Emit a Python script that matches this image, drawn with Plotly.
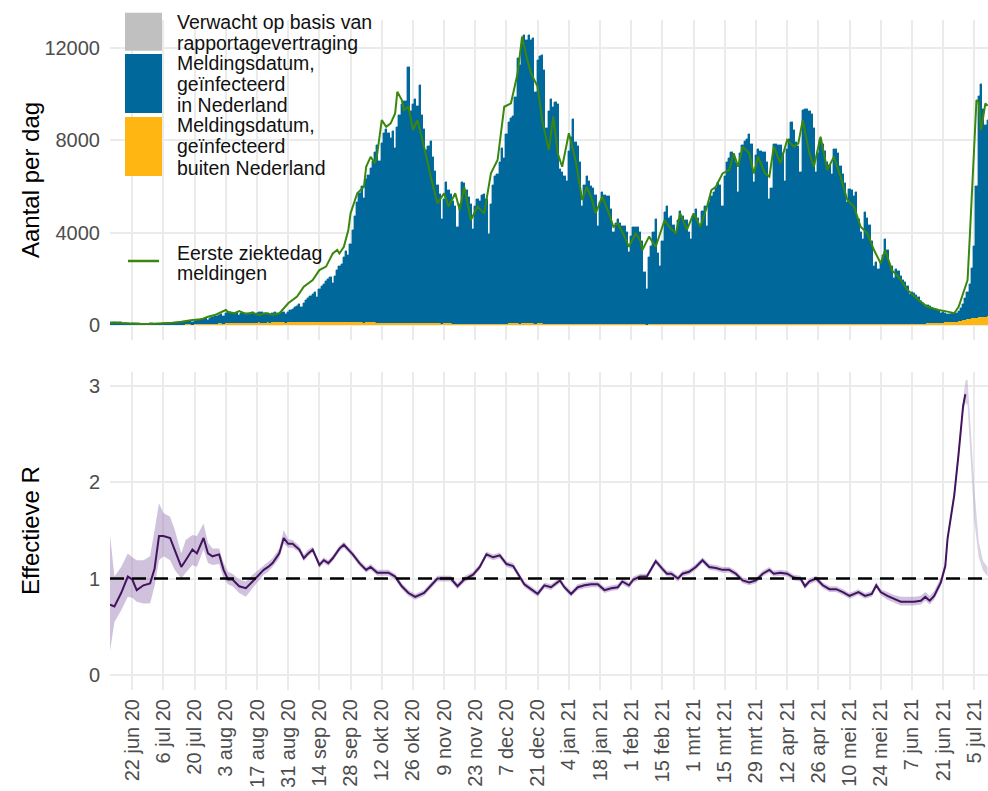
import pandas as pd
import plotly.graph_objects as go

START = pd.Timestamp("2020-06-12")

# Dagelijkse meldingen, geinfecteerd in Nederland (vanaf 12 jun 2020)
meld_nl = [
    130, 110, 80, 100, 110, 120, 100,
    100, 90, 60, 70, 80, 90, 70,
    60, 50, 40, 50, 60, 60, 50,
    50, 50, 40, 60, 70, 70, 80,
    80, 70, 60, 90, 110, 120, 130,
    140, 130, 110, 160, 180, 200, 210,
    230, 240, 190, 270, 300, 320, 340,
    380, 420, 350, 450, 470, 480, 450,
    440, 460, 340, 420, 440, 430, 410,
    430, 450, 370, 420, 440, 450, 430,
    430, 420, 360, 420, 440, 430, 420,
    440, 450, 360, 460, 520, 580, 640,
    700, 760, 640, 820, 950, 1050, 1100,
    1200, 1300, 1100, 1400, 1550, 1650, 1750,
    1850, 1950, 1700, 2000, 2250, 2400, 2500,
    2800, 3100, 2900, 3400, 4000, 4600, 5200,
    5600, 5900, 5400, 6200, 6400, 6700, 7000,
    7400, 7700, 7000, 7800, 8200, 8400, 8200,
    8000, 8300, 7600, 8500, 9000, 9500, 9600,
    9600, 11100, 9200, 9500, 9700, 9400, 10300,
    9000, 8400, 7500, 7700, 7900, 7200, 6600,
    6000, 5600, 4550, 5400, 6150, 5800, 5600,
    5300, 5100, 4200, 5200, 6150, 6100, 5800,
    5500, 5200, 4100, 5100, 5400, 5300, 5600,
    5600, 5400, 3900, 5200, 6000, 6400, 6500,
    7000, 7600, 7200, 8200, 8750, 8900, 9000,
    9800, 11500, 11200, 12100, 12500, 12300, 12500,
    12300, 12350, 10050, 11400, 11600, 11630, 11000,
    8500, 9200, 9750, 9400, 9600, 9530, 6700,
    6600, 6430, 6200, 7500, 8100, 8890, 7900,
    7700, 7000, 5130, 6000, 6430, 6200, 5990,
    5900, 5600, 4260, 5300, 5720, 5600, 5560,
    5560, 5000, 3980, 4400, 4550, 4400, 4260,
    4260, 4000, 3120, 3800, 4200, 4200, 4200,
    4000, 3600, 2250, 1520, 2900, 3390, 4000,
    4550, 3100, 2510, 3600, 4850, 5130, 4600,
    4700, 4300, 3980, 4500, 4910, 4700, 4500,
    4500, 3980, 3700, 4700, 4980, 4600, 4260,
    4900, 5130, 4260, 5270, 5560, 5700, 5900,
    6150, 6000, 5130, 6400, 7020, 7200, 7440,
    7300, 7000, 5720, 7400, 7730, 7900, 8000,
    8230, 7800, 6150, 7300, 7580, 7500, 7440,
    7440, 7000, 5420, 5900, 7800, 7800, 7730,
    7730, 7400, 6200, 7580, 8000, 8750, 8400,
    7890, 7700, 6600, 9250, 9320, 9290, 9200,
    9100, 8500, 6580, 7400, 8020, 7800, 7500,
    7020, 6900, 6500, 7580, 7580, 7400, 6860,
    6500, 6100, 5300, 5850, 5800, 5560, 5720,
    4550, 3980, 3700, 4850, 4600, 4300, 3600,
    2530, 2700, 2400, 2690, 3000, 3680, 3200,
    2600, 2530, 2000, 2380, 2300, 2100, 1900,
    1800, 1660, 1300, 1400, 1350, 1230, 1150,
    1000, 900, 750, 800, 750, 650, 600,
    560, 520, 420, 450, 400, 380, 360,
    380, 360, 350, 450, 550, 700, 950,
    1200, 1500, 2200, 3120, 5720, 9600, 10100,
    9000, 8320, 8500,
]

# Dagelijkse meldingen, geinfecteerd buiten Nederland
meld_buiten = [
    8, 6, 5, 6, 7, 8, 6,
    6, 5, 4, 5, 6, 6, 5,
    5, 5, 4, 5, 6, 7, 6,
    8, 8, 6, 9, 10, 12, 12,
    14, 15, 12, 18, 20, 22, 24,
    26, 28, 22, 30, 34, 38, 40,
    45, 48, 40, 55, 60, 62, 65,
    70, 75, 60, 80, 85, 88, 90,
    90, 95, 80, 95, 100, 100, 98,
    100, 105, 90, 105, 110, 108, 105,
    105, 110, 95, 110, 115, 112, 110,
    112, 115, 100, 118, 125, 128, 130,
    132, 135, 120, 138, 140, 142, 140,
    140, 142, 125, 140, 145, 145, 142,
    140, 138, 120, 135, 138, 136, 134,
    130, 128, 115, 125, 128, 126, 124,
    120, 118, 105, 115, 118, 116, 114,
    110, 108, 95, 105, 108, 106, 104,
    100, 98, 88, 96, 98, 96, 94,
    92, 95, 85, 90, 92, 90, 88,
    85, 82, 72, 80, 80, 78, 75,
    72, 70, 60, 68, 70, 68, 66,
    64, 62, 55, 60, 62, 60, 60,
    60, 58, 50, 58, 60, 58, 56,
    58, 56, 48, 56, 58, 60, 60,
    62, 64, 58, 64, 66, 66, 66,
    68, 70, 64, 72, 74, 74, 72,
    72, 70, 60, 68, 70, 68, 64,
    56, 58, 60, 60, 58, 56, 48,
    46, 48, 46, 52, 54, 56, 52,
    52, 50, 42, 48, 50, 48, 46,
    46, 45, 38, 44, 46, 45, 44,
    44, 42, 36, 40, 42, 41, 40,
    40, 38, 32, 38, 40, 40, 40,
    38, 36, 26, 20, 32, 36, 38,
    40, 34, 30, 36, 42, 44, 42,
    42, 40, 36, 40, 42, 42, 41,
    41, 38, 35, 41, 43, 42, 40,
    42, 43, 38, 44, 46, 46, 47,
    48, 47, 42, 49, 51, 52, 53,
    52, 51, 45, 52, 54, 55, 55,
    56, 54, 46, 52, 54, 54, 53,
    53, 51, 44, 46, 54, 54, 54,
    54, 53, 47, 53, 55, 57, 56,
    55, 54, 48, 58, 59, 59, 58,
    58, 56, 48, 52, 54, 53, 52,
    50, 49, 47, 52, 52, 51, 49,
    48, 46, 42, 45, 45, 44, 45,
    42, 40, 38, 44, 43, 42, 40,
    38, 39, 37, 40, 42, 46, 44,
    44, 44, 40, 44, 44, 45, 46,
    48, 50, 46, 52, 54, 56, 58,
    62, 64, 60, 68, 72, 76, 82,
    90, 96, 92, 104, 112, 118, 124,
    130, 142, 150, 170, 190, 210, 230,
    250, 270, 290, 310, 320, 330, 340,
    350, 360, 370,
]

# Eerste ziektedag meldingen (dagnummer sinds 12 jun 2020, aantal)
ziekte_dagnr = [
    0, 2, 5, 9, 13, 17, 21, 25, 28, 32, 37, 41, 44, 47, 49, 52, 53, 56, 58, 61,
    64, 67, 70, 73, 76, 79, 80, 84, 87, 91, 94, 97, 100, 102, 103, 105, 107, 108,
    111, 114, 115, 117, 119, 120, 122, 124, 126, 128, 129, 131, 132, 134, 136,
    138, 141, 144, 147, 150, 152, 155, 157, 159, 162, 165, 168, 171, 174, 177,
    180, 183, 185, 187, 189, 192, 194, 197, 199, 201, 203, 206, 209, 212, 214,
    216, 218, 221, 224, 226, 228, 231, 233, 236, 238, 239, 242, 245, 247, 249,
    251, 254, 256, 259, 262, 265, 268, 270, 272, 275, 278, 280, 282, 284, 287,
    289, 291, 294, 296, 298, 301, 304, 307, 309, 311, 314, 316, 319, 322, 325,
    328, 331, 334, 337, 340, 343, 346, 348, 351, 354, 358, 363, 367, 372, 376,
    379, 381, 383, 385, 386, 388, 389, 390, 391, 392, 393, 394,
]
ziekte_aantal = [
    80, 120, 90, 60, 40, 40, 50, 60, 100, 140, 220, 245, 360, 430, 505, 650, 560, 510, 600, 480,
    530, 440, 505, 440, 500, 795, 940, 1230, 1660, 1950, 2380, 2530, 3100, 3250, 3100, 3390, 4120, 4840,
    5710, 5990, 6860, 7290, 7010, 7440, 8880, 8590, 8740, 9170, 10110, 9750, 9320, 9460, 8450,
    8880, 7730, 6430, 5270, 5710, 5130, 5710, 4980, 5990, 4550, 5130, 4840, 6570, 7150, 9460,
    9610, 10910, 12500, 11630, 10910, 10330, 8880, 7580, 9030, 7440, 6860, 8310, 7150, 5420, 5990,
    5560, 4840, 5560, 4840, 4260, 4410, 3830, 3390, 3970, 3680, 3250, 3830, 3390, 3970, 4550,
    4260, 3970, 4840, 4120, 4840, 4260, 5130, 5850, 5990, 6570, 6720, 7440, 6860, 7730, 7440,
    6570, 7290, 6570, 6430, 7730, 7010, 8020, 7730, 7870, 8880, 7440, 6860, 8160, 6720, 7290,
    6430, 5420, 5130, 4260, 3970, 3250, 2670, 3250, 2380, 2090, 1520, 1080, 790, 650, 580,
    510, 790, 1370, 1950, 3830, 7440, 9750, 9650, 8450, 9000, 9610, 9500,
]

# Effectieve R (dagnummer sinds 12 jun 2020), met onder- en bovengrens
r_dagnr = [
    0, 2, 5, 8, 10, 12, 15, 18, 20, 22, 24, 27, 29, 32, 34, 37, 39, 42, 44, 46,
    49, 51, 53, 55, 58, 61, 64, 67, 69, 71, 73, 76, 78, 80, 82, 85, 87, 89, 91, 94,
    96, 98, 100, 103, 105, 107, 109, 112, 115, 117, 120, 123, 125, 128, 131, 134, 137, 141, 144, 147,
    150, 153, 156, 159, 163, 166, 169, 172, 175, 178, 181, 183, 186, 189, 192, 195, 198, 202, 204, 207,
    210, 213, 216, 219, 222, 225, 228, 230, 233, 235, 238, 241, 243, 245, 248, 250, 252, 255, 257, 260,
    263, 266, 269, 272, 275, 278, 281, 284, 287, 290, 293, 296, 298, 301, 304, 307, 310, 312, 314, 317,
    320, 323, 326, 329, 332, 334, 336, 339, 342, 344, 346, 349, 352, 355, 358, 361, 364, 366, 368, 370,
    373, 375, 376, 379, 381, 383, 384, 385, 386, 388, 390, 392, 394,
]
r_waarde = [
    0.73, 0.71, 0.85, 1.02, 0.99, 0.88, 0.93, 0.95, 1.10, 1.44, 1.44, 1.42, 1.30, 1.12, 1.19, 1.30, 1.26, 1.42, 1.26, 1.23,
    1.25, 1.09, 0.99, 0.99, 0.92, 0.90, 0.97, 1.04, 1.09, 1.12, 1.16, 1.26, 1.42, 1.36, 1.36, 1.30, 1.21, 1.26, 1.30, 1.14,
    1.19, 1.16, 1.21, 1.31, 1.35, 1.30, 1.25, 1.16, 1.09, 1.12, 1.06, 1.06, 1.06, 1.02, 0.92, 0.85, 0.81, 0.85, 0.92, 1.00,
    1.00, 1.00, 0.92, 0.99, 1.04, 1.12, 1.25, 1.22, 1.24, 1.15, 1.13, 1.05, 0.94, 0.89, 0.84, 0.93, 0.91, 0.98, 0.91, 0.84,
    0.91, 0.93, 0.94, 0.94, 0.88, 0.90, 0.91, 0.97, 0.93, 0.99, 1.02, 1.02, 1.10, 1.18, 1.10, 1.05, 1.05, 1.00, 1.05, 1.07,
    1.12, 1.19, 1.12, 1.11, 1.09, 1.09, 1.05, 0.98, 0.96, 0.98, 1.05, 1.09, 1.05, 1.06, 1.05, 1.01, 1.00, 0.92, 0.97, 1.00,
    0.93, 0.89, 0.89, 0.86, 0.82, 0.84, 0.86, 0.82, 0.84, 0.93, 0.86, 0.82, 0.79, 0.76, 0.76, 0.76, 0.77, 0.81, 0.77, 0.82,
    0.96, 1.13, 1.41, 1.86, 2.30, 2.79, 2.91, None, None, None, None, None, None,
]
r_onder = [
    0.25, 0.55, 0.67, 0.81, 0.80, 0.76, 0.74, 0.74, 0.92, 1.19, 1.23, 1.19, 1.09, 1.00, 1.06, 1.14, 1.12, 1.30, 1.16, 1.14,
    1.15, 1.00, 0.94, 0.92, 0.85, 0.81, 0.90, 0.98, 1.04, 1.07, 1.12, 1.21, 1.36, 1.32, 1.32, 1.27, 1.18, 1.23, 1.27, 1.11,
    1.16, 1.13, 1.18, 1.28, 1.32, 1.27, 1.22, 1.13, 1.06, 1.09, 1.03, 1.03, 1.03, 0.99, 0.89, 0.82, 0.78, 0.82, 0.89, 0.97,
    0.97, 0.97, 0.89, 0.96, 1.01, 1.09, 1.22, 1.19, 1.21, 1.12, 1.10, 1.02, 0.91, 0.86, 0.81, 0.90, 0.88, 0.95, 0.88, 0.81,
    0.88, 0.90, 0.91, 0.91, 0.85, 0.87, 0.88, 0.94, 0.90, 0.96, 0.99, 0.99, 1.07, 1.15, 1.07, 1.02, 1.02, 0.97, 1.02, 1.04,
    1.09, 1.16, 1.09, 1.08, 1.06, 1.06, 1.02, 0.95, 0.93, 0.95, 1.02, 1.06, 1.02, 1.03, 1.02, 0.98, 0.97, 0.89, 0.94, 0.97,
    0.90, 0.86, 0.86, 0.83, 0.79, 0.81, 0.83, 0.79, 0.81, 0.90, 0.83, 0.78, 0.75, 0.72, 0.72, 0.72, 0.73, 0.77, 0.73, 0.78,
    0.92, 1.09, 1.37, 1.82, 2.25, 2.72, 2.82, 2.80, 2.40, 1.60, 1.22, 1.08, 1.02,
]
r_boven = [
    1.45, 1.02, 1.12, 1.26, 1.22, 1.19, 1.19, 1.23, 1.50, 1.78, 1.68, 1.64, 1.51, 1.26, 1.40, 1.45, 1.44, 1.57, 1.37, 1.31,
    1.31, 1.16, 1.07, 1.05, 0.99, 0.97, 1.04, 1.10, 1.14, 1.17, 1.21, 1.31, 1.50, 1.41, 1.40, 1.34, 1.25, 1.30, 1.33, 1.17,
    1.22, 1.19, 1.24, 1.34, 1.38, 1.33, 1.28, 1.19, 1.12, 1.15, 1.09, 1.09, 1.09, 1.05, 0.95, 0.88, 0.84, 0.88, 0.95, 1.03,
    1.03, 1.03, 0.95, 1.02, 1.07, 1.15, 1.28, 1.25, 1.27, 1.18, 1.16, 1.08, 0.97, 0.92, 0.87, 0.96, 0.94, 1.01, 0.94, 0.87,
    0.94, 0.96, 0.97, 0.97, 0.91, 0.93, 0.94, 1.00, 0.96, 1.02, 1.05, 1.05, 1.13, 1.21, 1.13, 1.08, 1.08, 1.03, 1.08, 1.10,
    1.15, 1.22, 1.15, 1.14, 1.12, 1.12, 1.08, 1.01, 0.99, 1.01, 1.08, 1.12, 1.08, 1.09, 1.08, 1.04, 1.03, 0.95, 1.00, 1.03,
    0.96, 0.92, 0.92, 0.89, 0.85, 0.87, 0.89, 0.85, 0.87, 0.96, 0.89, 0.86, 0.83, 0.81, 0.81, 0.81, 0.82, 0.86, 0.82, 0.87,
    1.01, 1.18, 1.46, 1.92, 2.37, 2.88, 3.05, 3.06, 2.70, 1.95, 1.38, 1.18, 1.12,
]

tick_labels = [
    "22 jun 20", "6 jul 20", "20 jul 20", "3 aug 20", "17 aug 20", "31 aug 20", "14 sep 20",
    "28 sep 20", "12 okt 20", "26 okt 20", "9 nov 20", "23 nov 20", "7 dec 20", "21 dec 20",
    "4 jan 21", "18 jan 21", "1 feb 21", "15 feb 21", "1 mrt 21", "15 mrt 21", "29 mrt 21",
    "12 apr 21", "26 apr 21", "10 mei 21", "24 mei 21", "7 jun 21", "21 jun 21", "5 jul 21",
]

# ---------------------------------------------------------------------------
bar_dates = pd.date_range(START, periods=len(meld_nl), freq="D")
ziekte_dates = [START + pd.Timedelta(days=d) for d in ziekte_dagnr]
r_dates = [START + pd.Timedelta(days=d) for d in r_dagnr]
tick_dates = pd.date_range("2020-06-22", periods=len(tick_labels), freq="14D")

n_line = sum(v is not None for v in r_waarde)
band_main = n_line
band_tail_start = n_line - 1

W, H = 988, 791
L, R, T, B = 110, 0, 20, 101


def px(x):
    return (x - L) / (W - L - R)


def py(y):
    return (H - B - y) / (H - T - B)


FONT = "Liberation Sans, Arial, sans-serif"
BLUE = "#01689B"
YELLOW = "#FFB612"
GREY = "#C0C0C0"
GREEN = "#39870C"
PURPLE = "#42145F"
GRID = "#EBEBEB"

fig = go.Figure()

fig.add_trace(go.Bar(x=bar_dates, y=meld_buiten, marker=dict(color=YELLOW, line=dict(width=0.4, color=YELLOW)),
                     xaxis="x", yaxis="y", showlegend=False))
fig.add_trace(go.Bar(x=bar_dates, y=meld_nl, marker=dict(color=BLUE, line=dict(width=0.4, color=BLUE)),
                     xaxis="x", yaxis="y", showlegend=False))
fig.add_trace(go.Scatter(x=ziekte_dates, y=ziekte_aantal, mode="lines",
                         line=dict(color=GREEN, width=2), xaxis="x", yaxis="y", showlegend=False))

# R band (main)
fig.add_trace(go.Scatter(x=r_dates[:band_main], y=r_onder[:band_main], mode="lines", line=dict(width=0),
                         xaxis="x2", yaxis="y2", showlegend=False))
fig.add_trace(go.Scatter(x=r_dates[:band_main], y=r_boven[:band_main], mode="lines", line=dict(width=0),
                         fill="tonexty", fillcolor="rgba(150,120,180,0.45)",
                         xaxis="x2", yaxis="y2", showlegend=False))
# R band (tail, no line)
fig.add_trace(go.Scatter(x=r_dates[band_tail_start:], y=r_onder[band_tail_start:], mode="lines", line=dict(width=0),
                         xaxis="x2", yaxis="y2", showlegend=False))
fig.add_trace(go.Scatter(x=r_dates[band_tail_start:], y=r_boven[band_tail_start:], mode="lines", line=dict(width=0),
                         fill="tonexty", fillcolor="rgba(170,155,195,0.45)",
                         xaxis="x2", yaxis="y2", showlegend=False))
fig.add_trace(go.Scatter(x=r_dates[:n_line], y=r_waarde[:n_line], mode="lines",
                         line=dict(color=PURPLE, width=2), xaxis="x2", yaxis="y2", showlegend=False))

x_range = [START, START + pd.Timedelta(days=394.17)]

common_x = dict(range=x_range, tickmode="array", tickvals=tick_dates, showgrid=True,
                gridcolor=GRID, gridwidth=1.5, zeroline=False, showline=False, ticks="")

fig.update_layout(
    width=W, height=H,
    margin=dict(l=L, r=R, t=T, b=B, autoexpand=False),
    paper_bgcolor="white", plot_bgcolor="white",
    barmode="stack", bargap=0,
    font=dict(family=FONT, color="#4D4D4D", size=20),
    showlegend=False,
    xaxis=dict(domain=[0, 1], anchor="y", showticklabels=False, **common_x),
    yaxis=dict(domain=[py(340), 1], anchor="x", range=[-650, 13220], tickvals=[0, 4000, 8000, 12000],
               tickformat="d", showgrid=True, gridcolor=GRID, gridwidth=1.5, zeroline=False,
               showline=False, ticks="", ticklabelstandoff=9, tickfont=dict(size=20, color="#4D4D4D")),
    xaxis2=dict(domain=[0, 1], anchor="y2", matches="x", ticktext=tick_labels, tickangle=-90,
                ticklabelstandoff=4, tickfont=dict(size=20, color="#4D4D4D"), **common_x),
    yaxis2=dict(domain=[0, py(372)], anchor="x2", range=[-0.155, 3.14], tickvals=[0, 1, 2, 3],
                showgrid=True, gridcolor=GRID, gridwidth=1.5, zeroline=False, showline=False,
                ticks="", ticklabelstandoff=9, tickfont=dict(size=20, color="#4D4D4D")),
)

# dashed reference line at R = 1
fig.add_shape(type="line", xref="x2 domain", yref="y2", x0=0, x1=1, y0=1, y1=1,
              line=dict(color="black", width=2.5, dash="14px,8px"))

# axis titles
fig.add_annotation(text="Aantal per dag", xref="paper", yref="paper", x=px(30), y=py(180),
                   textangle=-90, showarrow=False, font=dict(size=24, color="black", family=FONT),
                   xanchor="center", yanchor="middle")
fig.add_annotation(text="Effectieve R", xref="paper", yref="paper", x=px(30), y=py(531),
                   textangle=-90, showarrow=False, font=dict(size=24, color="black", family=FONT),
                   xanchor="center", yanchor="middle")

# legend (drawn manually to match ggplot's tall keys)
for (y0, y1, col) in [(12.7, 50.7, GREY), (54, 113, BLUE), (117, 176, YELLOW)]:
    fig.add_shape(type="rect", xref="paper", yref="paper", x0=px(125), x1=px(162),
                  y0=py(y1), y1=py(y0), fillcolor=col, line=dict(width=0), layer="above")
fig.add_shape(type="line", xref="paper", yref="paper", x0=px(128), x1=px(159), y0=py(261), y1=py(261),
              line=dict(color=GREEN, width=2.5), layer="above")

legend_lines = [
    ("Verwacht op basis van", 21.7), ("rapportagevertraging", 43.3),
    ("Meldingsdatum,", 63.0), ("geïnfecteerd", 84.2), ("in Nederland", 105.5),
    ("Meldingsdatum,", 124.8), ("geïnfecteerd", 146.0), ("buiten Nederland", 167.8),
    ("Eerste ziektedag", 252.8), ("meldingen", 273),
]
for txt, yc in legend_lines:
    fig.add_annotation(text=txt, xref="paper", yref="paper", x=px(175), y=py(yc), showarrow=False,
                       xanchor="left", yanchor="middle", font=dict(size=19.5, color="#111111", family=FONT))

fig.write_html("out.html", config={"displayModeBar": False},
               post_script="document.body.style.margin='0px';document.body.style.overflow='hidden';")
